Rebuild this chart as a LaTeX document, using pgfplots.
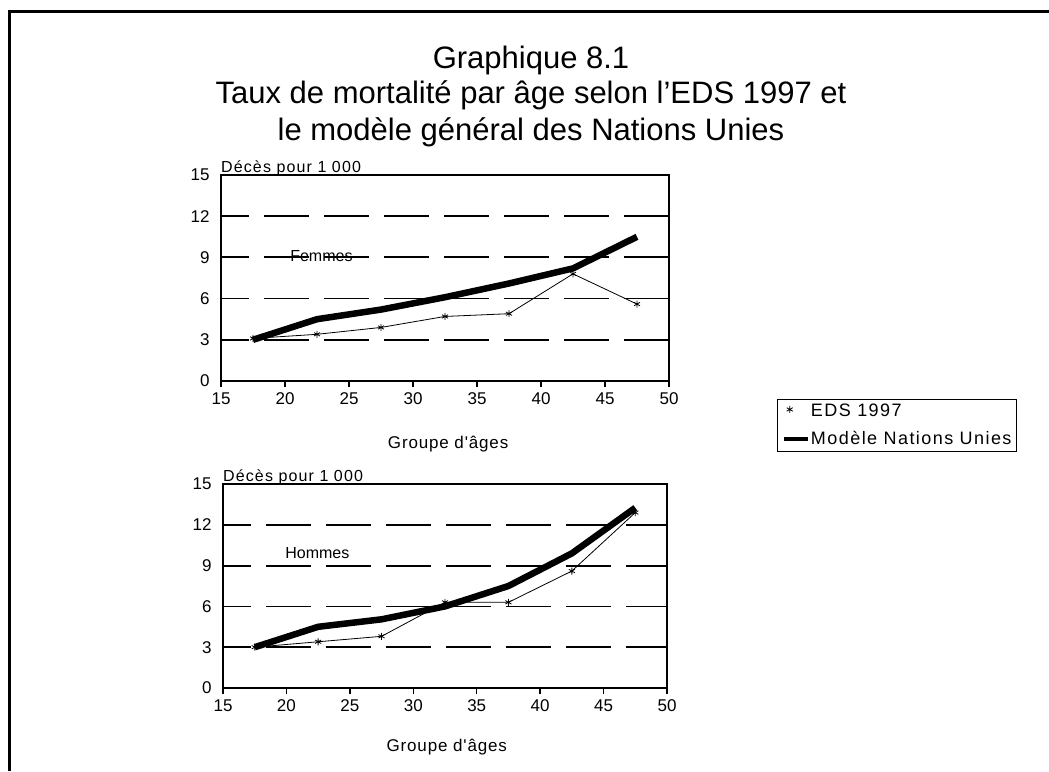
\documentclass[border=0pt]{standalone}
\usepackage{fontspec}
\setmainfont{Liberation Sans}
\newfontfamily\widefont[LetterSpace=5]{Liberation Sans}
\newfontfamily\legfont[LetterSpace=8]{Liberation Sans}
\newfontfamily\decfont[LetterSpace=7]{Liberation Sans}
\usepackage{pgfplots}
\pgfplotsset{compat=1.18}
\tikzset{mygrid/.style={black, line width=1.8pt, dash pattern=on 45pt off 15pt, dash phase=17pt}}
\pgfplotsset{
  mystyle/.style={
    scale only axis, width=448pt, height=206pt,
    xmin=15, xmax=50, ymin=0, ymax=15,
    xtick={15,20,...,50}, ytick={0,3,...,15},
    axis line style={black, line width=1.6pt},
    xtick pos=bottom, tick align=outside, major tick length=6pt,
    xtick style={black, line width=1.4pt},
    ytick style={draw=none},
    /pgf/number format/assume math mode=true,
    tick label style={font=\fontsize{17}{17}\selectfont},
    xticklabel style={yshift=-2pt},
    yticklabel style={xshift=-2pt},
    clip=false,
  },
  eds/.style={black, line width=0.8pt, mark=asterisk, mark size=3.5pt, mark options={line width=0.8pt}},
  model/.style={black, line width=6.5pt, line join=round, no marks},
}
\begin{document}
\begin{tikzpicture}[x=1pt,y=1pt]
\useasboundingbox (0,0) rectangle (1049,771);
\draw[line width=3.5pt] (9.5,0) -- (9.5,759.5) -- (1049,759.5);
\begin{scope}[every node/.style={font=\fontsize{31}{35}\selectfont, anchor=base, inner sep=0}]
\node at (531,702) {Graphique 8.1};
\node at (531,667) {Taux de mortalité par âge selon l'EDS 1997 et};
\node at (531,630) {le modèle général des Nations Unies};
\end{scope}

% top chart
\begin{axis}[mystyle, at={(221pt,390pt)}, anchor=south west,
  legend style={at={(1.241,-0.087)}, anchor=north west, draw=black, line width=1pt,
    font=\legfont\fontsize{18}{19}\selectfont, inner sep=4pt, row sep=11pt,
    legend cell align=left, nodes={inner sep=1pt}},
  ]
\draw[mygrid] (axis cs:15,3) -- (axis cs:50,3);
\draw[mygrid] (axis cs:15,6) -- (axis cs:50,6);
\draw[mygrid] (axis cs:15,9) -- (axis cs:50,9);
\draw[mygrid] (axis cs:15,12) -- (axis cs:50,12);
\addplot[eds, legend image code/.code={\path[draw=none] (0pt,0pt) -- (22pt,0pt); \draw[line width=0.8pt, mark size=3.5pt] plot[mark=asterisk] coordinates {(6pt,2pt)};}] coordinates {(17.5,3.1) (22.5,3.4) (27.5,3.9) (32.5,4.7) (37.5,4.9) (42.5,7.8) (47.5,5.6)};
\addlegendentry{EDS 1997}
\addplot[model, legend image code/.code={\draw[line width=4.5pt] (0pt,0pt) -- (24pt,0pt);}] coordinates {(17.5,3.0) (22.5,4.5) (27.5,5.2) (32.5,6.1) (37.5,7.1) (42.5,8.2) (47.5,10.5)};
\addlegendentry{Modèle Nations Unies}
\node[anchor=west, font=\fontsize{16}{16}\selectfont, inner sep=0] at (axis cs:20.4,9.1) {Femmes};
\node[anchor=south west, font=\decfont\fontsize{16}{16}\selectfont, inner sep=0] at ([yshift=-1pt]rel axis cs:0,1) {Décès pour 1 000};
\node[font=\widefont\fontsize{17}{17}\selectfont] at (rel axis cs:0.507,-0.306) {Groupe d'âges};
\end{axis}

% bottom chart
\begin{axis}[mystyle, at={(223pt,83pt)}, anchor=south west, width=444pt, height=204pt]
\draw[mygrid] (axis cs:15,3) -- (axis cs:50,3);
\draw[mygrid] (axis cs:15,6) -- (axis cs:50,6);
\draw[mygrid] (axis cs:15,9) -- (axis cs:50,9);
\draw[mygrid] (axis cs:15,12) -- (axis cs:50,12);
\addplot[eds] coordinates {(17.5,3.0) (22.5,3.4) (27.5,3.8) (32.5,6.3) (37.5,6.3) (42.5,8.6) (47.5,12.9)};
\addplot[model] coordinates {(17.5,3.0) (22.5,4.5) (27.5,5.05) (32.5,6.0) (37.5,7.5) (42.5,9.9) (47.5,13.25)};
\node[anchor=west, font=\fontsize{16}{16}\selectfont, inner sep=0] at (axis cs:19.9,9.9) {Hommes};
\node[anchor=south west, font=\decfont\fontsize{16}{16}\selectfont, inner sep=0] at ([yshift=-1pt]rel axis cs:0,1) {Décès pour 1 000};
\node[font=\widefont\fontsize{17}{17}\selectfont] at (rel axis cs:0.504,-0.29) {Groupe d'âges};
\end{axis}
\end{tikzpicture}
\end{document}
